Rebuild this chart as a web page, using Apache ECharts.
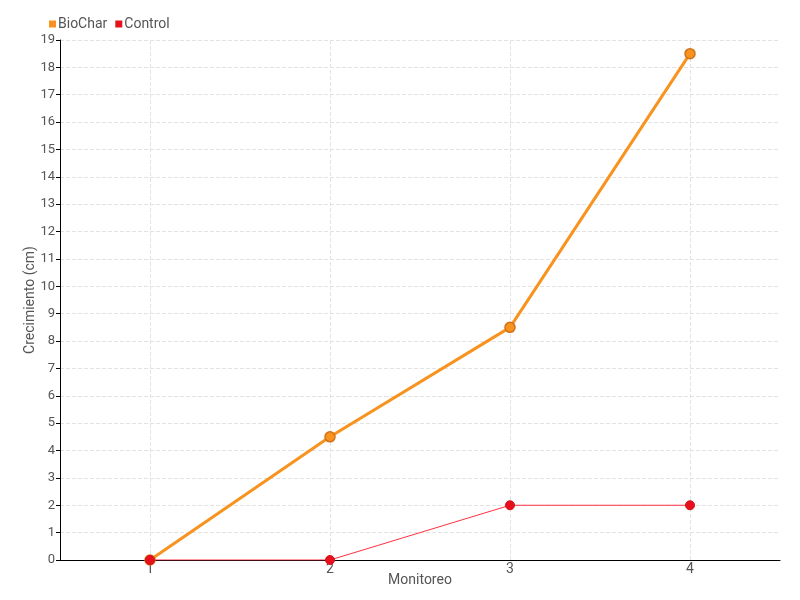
<!DOCTYPE html>
<html><head><meta charset="utf-8">
<script src="https://cdn.jsdelivr.net/npm/echarts@6/dist/echarts.min.js"></script>
<style>html,body{margin:0;padding:0;background:#fff}#c{width:800px;height:600px}</style>
</head><body><div id="c"></div>
<script>
const categories = ['1', '2', '3', '4'];
const biochar = [0, 4.5, 8.5, 18.5];
const control = [0, 0, 2, 2];
const yTicks = [0,1,2,3,4,5,6,7,8,9,10,11,12,13,14,15,16,17,18,19];

const FONT = "Roboto, 'DejaVu Sans', sans-serif";
const chart = echarts.init(document.getElementById('c'));
chart.setOption({
  animation: false,
  textStyle: { fontFamily: FONT },
  legend: {
    left: 44, top: 12,
    itemWidth: 7, itemHeight: 7, itemGap: 8,
    icon: 'rect',
    itemStyle: { borderWidth: 0 },
    textStyle: { fontSize: 14, color: '#555', fontFamily: FONT, padding: [0,0,0,-3] },
    data: ['BioChar', 'Control']
  },
  grid: { left: 60, right: 20, top: 40, bottom: 40 },
  xAxis: {
    type: 'category',
    data: categories,
    boundaryGap: true,
    name: 'Monitoreo', nameLocation: 'middle', nameGap: 13, nameMoveOverlap: false,
    nameTextStyle: { fontSize: 14, color: '#555', fontFamily: FONT },
    axisLine: { lineStyle: { color: '#000', width: 1 } },
    axisTick: { show: false },
    axisLabel: { fontSize: 14, color: '#555', margin: 2, fontFamily: FONT },
    splitLine: { show: true, alignWithLabel: true, lineStyle: { type: 'dashed', color: '#e2e2e2' } }
  },
  yAxis: {
    type: 'value',
    min: yTicks[0], max: yTicks[yTicks.length - 1], interval: 1,
    name: 'Crecimiento (cm)', nameLocation: 'middle', nameGap: 23, nameMoveOverlap: false,
    nameTextStyle: { fontSize: 14, color: '#555', fontFamily: FONT },
    axisLine: { show: true, lineStyle: { color: '#000', width: 1 } },
    axisTick: { show: true, length: 4, lineStyle: { color: '#000' } },
    axisLabel: { fontSize: 13, color: '#555', margin: 5, fontFamily: FONT },
    splitLine: { show: true, lineStyle: { type: 'dashed', color: '#e2e2e2' } }
  },
  series: [
    {
      name: 'BioChar', type: 'line', data: biochar,
      color: '#f7931e',
      symbol: 'circle', symbolSize: 10,
      lineStyle: { width: 3, color: '#f7931e' },
      itemStyle: { color: '#f7931e', borderColor: '#d2711a', borderWidth: 1.5 },
      z: 3
    },
    {
      name: 'Control', type: 'line', data: control,
      color: '#f0141e',
      symbol: 'circle', symbolSize: 9,
      lineStyle: { width: 1, color: '#ff3040' },
      itemStyle: { color: '#e8101c', borderColor: '#d01018', borderWidth: 1 },
      z: 4
    }
  ]
});
</script></body></html>
